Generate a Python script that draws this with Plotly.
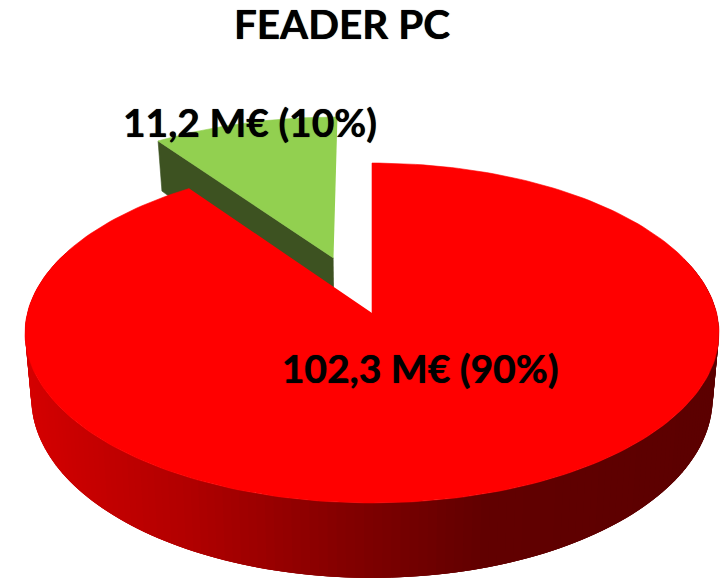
import numpy as np
import plotly.graph_objects as go

title = "FEADER PC"
values = [102.3, 11.2]
labels = ["102,3 M€ (90%)", "11,2 M€ (10%)"]

W, H = 723, 578
CX, CY = 372.0, 313.0      # projected pie centre (apex of the red slice)
A, B, K = 344.6, 167.6, 0.1176  # perspective projection of the unit disc
EXPLODE = 0.358
GREEN_SCALE = 1.015
GREEN_NUDGE_U = -0.007
RED, GREEN, GREEN_DARK = "#ff0000", "#92d050", "#3d5221"
WALL_STOPS_X = [25, 200, 370, 500, 720]
WALL_STOPS_R = [214, 178, 130, 98, 92]
HALO = "0 0 0.8px black"


def project(u, v, lower=False):
    w = 1 + K * v
    x, y = A * u / w, B * v / w
    if lower:
        return CX + 0.982 * x, CY - y + 63.5 - 11.5 * v
    return CX + x, CY - y


def disc(theta_deg):
    t = np.radians(theta_deg)
    return np.sin(t), np.cos(t)


def poly(fig, xs, ys, color, lw=0.6):
    fig.add_trace(go.Scatter(x=list(xs), y=list(ys), mode="lines", fill="toself",
                             fillcolor=color, line=dict(color=color, width=lw),
                             hoverinfo="skip", showlegend=False))


total = sum(values)
red_end = 360 * values[0] / total
mid = (red_end + 360) / 2
du, dv = disc(mid)
du, dv = du * EXPLODE + GREEN_NUDGE_U, dv * EXPLODE

fig = go.Figure()

# green slice: cut wall then top
cu, cv = disc(red_end)
cu, cv = cu * GREEN_SCALE, cv * GREEN_SCALE
tx0, ty0 = project(du, dv)
tx1, ty1 = project(cu + du, cv + dv)
bx1, by1 = project(cu + du, cv + dv, lower=True)
bx0, by0 = project(du, dv, lower=True)
poly(fig, [tx0, tx1, bx1, bx0], [ty0, ty1, by1, by0], GREEN_DARK)
th = np.linspace(red_end, 360, 40)
u, v = disc(th)
gx, gy = project(u * GREEN_SCALE + du, v * GREEN_SCALE + dv)
poly(fig, np.r_[tx0, gx], np.r_[ty0, gy], GREEN)

# red slice: overlapping outer wall segments, then top
th = np.linspace(0, red_end, 241)
u, v = disc(th)
tx, ty = project(u, v)
bx, by = project(u, v, lower=True)
order = [i for i in range(len(th) - 3) if v[i] <= 0.35]
order.sort(key=lambda i: tx[i])
for i in order:
    j = i + 3
    r = int(np.interp((tx[i] + tx[i + 1]) / 2, WALL_STOPS_X, WALL_STOPS_R))
    poly(fig, [tx[i], tx[j], bx[j], bx[i]], [ty[i], ty[j], by[j], by[i]], f"rgb({r},0,0)", lw=0)
poly(fig, np.r_[CX, tx], np.r_[CY, ty], RED)

fig.add_annotation(x=420, y=368, text=f"<b>{labels[0]}</b>", showarrow=False,
                   font=dict(family="Lato", size=39, color="black", shadow=HALO))
fig.add_annotation(x=250, y=122, text=f"<b>{labels[1]}</b>", showarrow=False,
                   font=dict(family="Lato", size=39, color="black", shadow=HALO))

fig.update_layout(
    width=W, height=H, margin=dict(l=0, r=0, t=0, b=0),
    paper_bgcolor="white", plot_bgcolor="white", showlegend=False,
    title=dict(text=f"<b>{title}</b>", x=342 / W, xanchor="center", y=1 - 25 / H, yanchor="middle",
               font=dict(family="Lato", size=40.5, color="black", shadow=HALO)),
    xaxis=dict(range=[0, W], visible=False, fixedrange=True),
    yaxis=dict(range=[H, 0], visible=False, fixedrange=True),
)
fig.write_html("out.html", config={"displayModeBar": False},
               post_script="document.body.style.margin='0';")
